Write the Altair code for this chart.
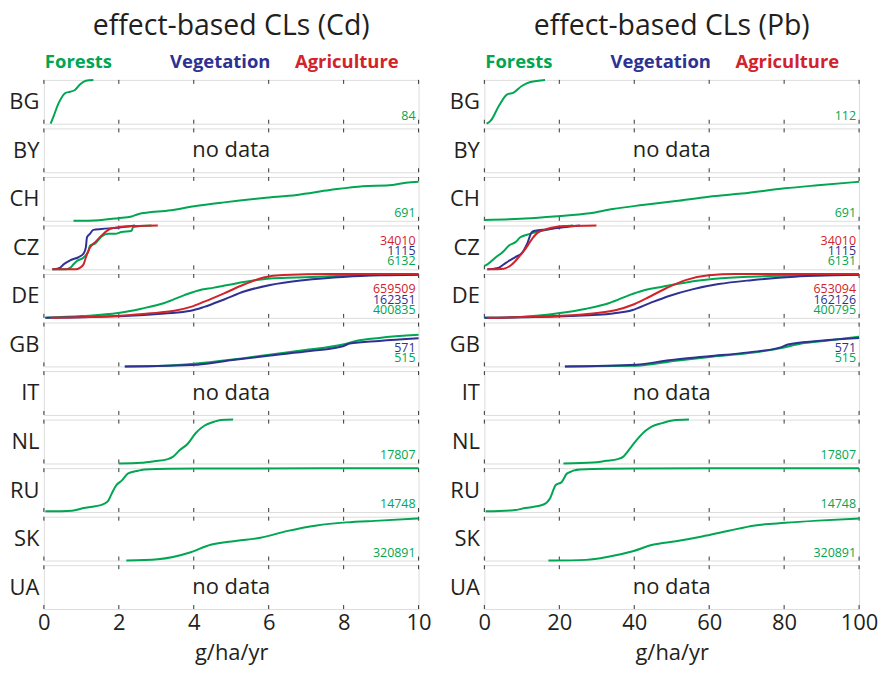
import altair as alt
import pandas as pd

FONT = "Open Sans"
INK = "#231f20"
BORDER = "#333333"

COUNTRIES = ["BG", "BY", "CH", "CZ", "DE", "GB", "IT", "NL", "RU", "SK", "UA"]
SERIES = ["Forests", "Vegetation", "Agriculture"]
SERIES_COLORS = ["#00a651", "#2e3192", "#d2232a"]
TITLES = ["effect-based CLs (Cd)", "effect-based CLs (Pb)"]
CD_TICKS = [0, 2, 4, 6, 8, 10]
PB_TICKS = [0, 20, 40, 60, 80, 100]
X_TITLE = "g/ha/yr"
NO_DATA = "no data"

# ---- number of records per country (Forests / Vegetation / Agriculture) ----
CD_N_FORESTS = [84, None, 691, 6132, 400835, 515, None, 17807, 14748, 320891, None]
CD_N_VEGETATION = [None, None, None, 1115, 162351, 571, None, None, None, None, None]
CD_N_AGRICULTURE = [None, None, None, 34010, 659509, None, None, None, None, None, None]
PB_N_FORESTS = [112, None, 691, 6131, 400795, 515, None, 17807, 14748, 320891, None]
PB_N_VEGETATION = [None, None, None, 1115, 162126, 571, None, None, None, None, None]
PB_N_AGRICULTURE = [None, None, None, 34010, 653094, None, None, None, None, None, None]

# ---- cumulative distributions, Cd (g/ha/yr vs fraction) ----
CD_BG_F_X = [0.18, 0.25, 0.40, 0.57, 0.70, 0.83, 0.97, 1.12, 1.32]
CD_BG_F_Y = [0.0, 0.15, 0.48, 0.70, 0.73, 0.77, 0.90, 0.98, 1.0]
CD_CH_F_X = [0.79, 1.46, 1.98, 2.34, 2.51, 3.39, 4.01, 4.81, 5.86, 6.75, 7.63, 8.51, 9.21, 9.66, 10.0]
CD_CH_F_Y = [0.0, 0.015, 0.06, 0.10, 0.15, 0.24, 0.33, 0.42, 0.52, 0.59, 0.70, 0.79, 0.81, 0.87, 0.89]
CD_CZ_F_X = [0.22, 0.57, 0.71, 0.79, 0.88, 1.06, 1.19, 1.23, 1.37, 1.54, 1.72, 1.90, 2.07, 2.34, 2.38, 2.51, 2.87]
CD_CZ_F_Y = [0.0, 0.0, 0.04, 0.115, 0.19, 0.27, 0.42, 0.54, 0.59, 0.75, 0.81, 0.81, 0.85, 0.88, 0.96, 0.98, 1.0]
CD_CZ_V_X = [0.26, 0.44, 0.53, 0.71, 0.93, 1.06, 1.12, 1.15, 1.23, 1.32, 1.54, 1.98, 2.43]
CD_CZ_V_Y = [0.0, 0.04, 0.115, 0.21, 0.28, 0.36, 0.50, 0.73, 0.81, 0.90, 0.92, 0.95, 1.0]
CD_CZ_A_X = [0.22, 0.84, 0.97, 1.06, 1.12, 1.23, 1.37, 1.54, 1.76, 1.98, 2.51, 3.04]
CD_CZ_A_Y = [0.0, 0.0, 0.04, 0.115, 0.27, 0.50, 0.62, 0.77, 0.92, 0.96, 0.99, 1.0]
CD_DE_F_X = [0.04, 1.01, 1.98, 2.60, 3.22, 3.75, 4.10, 4.54, 5.34, 6.04, 6.75, 7.63, 8.51, 10.0]
CD_DE_F_Y = [0.0, 0.04, 0.11, 0.21, 0.34, 0.52, 0.62, 0.69, 0.82, 0.90, 0.92, 0.95, 0.97, 0.985]
CD_DE_V_X = [0.04, 2.16, 3.22, 3.92, 4.28, 4.81, 5.34, 6.04, 6.92, 8.07, 8.95, 10.0]
CD_DE_V_Y = [0.0, 0.04, 0.10, 0.16, 0.25, 0.42, 0.60, 0.75, 0.86, 0.94, 0.97, 0.985]
CD_DE_A_X = [0.18, 1.90, 2.78, 3.48, 3.92, 4.28, 4.81, 5.34, 5.86, 6.39, 7.63, 10.0]
CD_DE_A_Y = [0.0, 0.04, 0.10, 0.16, 0.25, 0.37, 0.56, 0.76, 0.92, 0.98, 1.0, 1.0]
CD_GB_F_X = [2.16, 3.22, 4.01, 4.98, 5.86, 6.92, 7.98, 8.33, 8.95, 10.0]
CD_GB_F_Y = [0.0, 0.015, 0.06, 0.15, 0.25, 0.37, 0.50, 0.58, 0.65, 0.72]
CD_GB_V_X = [2.16, 4.10, 4.98, 6.04, 7.10, 7.98, 8.16, 8.95, 10.0]
CD_GB_V_Y = [0.0, 0.04, 0.14, 0.25, 0.35, 0.46, 0.52, 0.58, 0.64]
CD_NL_F_X = [2.0, 2.60, 2.95, 3.31, 3.44, 3.62, 3.84, 4.06, 4.28, 4.54, 4.72, 5.05]
CD_NL_F_Y = [0.0, 0.015, 0.05, 0.10, 0.15, 0.30, 0.45, 0.70, 0.86, 0.95, 0.99, 1.0]
CD_RU_F_X = [0.04, 0.75, 1.06, 1.37, 1.59, 1.72, 1.81, 1.94, 2.07, 2.25, 2.51, 2.69, 4.10, 10.0]
CD_RU_F_Y = [0.015, 0.03, 0.09, 0.13, 0.18, 0.26, 0.42, 0.62, 0.71, 0.88, 0.94, 0.97, 0.99, 1.0]
CD_SK_F_X = [2.20, 3.04, 3.92, 4.45, 5.16, 5.78, 6.48, 7.28, 8.07, 8.95, 10.0]
CD_SK_F_Y = [0.0, 0.03, 0.19, 0.36, 0.45, 0.52, 0.67, 0.80, 0.87, 0.91, 0.96]

# ---- cumulative distributions, Pb ----
PB_BG_F_X = [0.6, 1.7, 3.9, 6.1, 7.8, 10.0, 12.3, 16.2]
PB_BG_F_Y = [0.0, 0.07, 0.41, 0.67, 0.71, 0.86, 0.95, 1.0]
PB_CH_F_X = [0.0, 9.6, 18.4, 28.1, 34.3, 42.2, 51.1, 59.9, 68.7, 80.2, 89.0, 100.0]
PB_CH_F_Y = [0.02, 0.045, 0.10, 0.17, 0.27, 0.36, 0.45, 0.55, 0.62, 0.74, 0.81, 0.89]
PB_CZ_F_X = [0.0, 0.8, 3.0, 5.2, 6.5, 8.3, 9.6, 11.4, 14.0, 17.5, 21.1, 23.7]
PB_CZ_F_Y = [0.08, 0.115, 0.27, 0.42, 0.54, 0.62, 0.73, 0.79, 0.85, 0.92, 0.98, 1.0]
PB_CZ_V_X = [0.8, 3.9, 5.2, 6.5, 8.3, 10.1, 11.4, 12.7, 13.6, 16.7, 21.1, 25.5]
PB_CZ_V_Y = [0.0, 0.04, 0.115, 0.19, 0.28, 0.38, 0.58, 0.85, 0.88, 0.91, 0.96, 1.0]
PB_CZ_A_X = [0.8, 5.2, 7.4, 9.2, 10.9, 12.7, 14.0, 16.7, 21.1, 29.9]
PB_CZ_A_Y = [0.0, 0.015, 0.115, 0.28, 0.46, 0.69, 0.82, 0.92, 0.98, 1.0]
PB_DE_F_X = [0.0, 9.6, 20.2, 27.2, 33.4, 38.7, 42.2, 47.5, 54.6, 61.6, 71.3, 84.6, 100.0]
PB_DE_F_Y = [0.0, 0.02, 0.11, 0.21, 0.34, 0.52, 0.62, 0.71, 0.82, 0.89, 0.94, 0.97, 0.985]
PB_DE_V_X = [0.0, 22.8, 34.3, 39.6, 44.0, 49.3, 55.5, 62.5, 71.3, 82.8, 93.4, 100.0]
PB_DE_V_Y = [0.0, 0.04, 0.10, 0.18, 0.33, 0.50, 0.65, 0.77, 0.86, 0.94, 0.97, 0.985]
PB_DE_A_X = [0.8, 18.4, 29.0, 35.2, 39.6, 43.1, 48.4, 53.7, 59.9, 66.9, 100.0]
PB_DE_A_Y = [0.0, 0.04, 0.10, 0.18, 0.30, 0.44, 0.67, 0.86, 0.97, 1.0, 1.0]
PB_GB_F_X = [21.5, 40.5, 51.1, 60.8, 71.3, 79.3, 84.6, 90.7, 100.0]
PB_GB_F_Y = [0.0, 0.015, 0.13, 0.22, 0.31, 0.42, 0.52, 0.58, 0.68]
PB_GB_V_X = [21.5, 40.5, 49.3, 59.9, 70.5, 79.3, 81.0, 89.0, 100.0]
PB_GB_V_Y = [0.0, 0.04, 0.14, 0.23, 0.32, 0.44, 0.50, 0.58, 0.65]
PB_NL_F_X = [21.1, 29.0, 32.5, 35.6, 37.0, 39.2, 40.9, 43.1, 44.9, 47.5, 50.2, 54.6]
PB_NL_F_Y = [0.0, 0.02, 0.06, 0.10, 0.15, 0.38, 0.56, 0.75, 0.85, 0.92, 0.98, 1.0]
PB_RU_F_X = [0.35, 7.8, 10.9, 15.8, 17.5, 19.1, 20.6, 22.1, 25.5, 40.5, 100.0]
PB_RU_F_Y = [0.015, 0.04, 0.09, 0.17, 0.31, 0.62, 0.68, 0.88, 0.97, 0.99, 1.0]
PB_SK_F_X = [17.1, 27.2, 33.4, 39.6, 44.9, 51.1, 58.1, 65.2, 72.2, 80.2, 89.0, 100.0]
PB_SK_F_Y = [0.0, 0.015, 0.09, 0.21, 0.36, 0.44, 0.55, 0.68, 0.80, 0.86, 0.91, 0.96]

CURVES = {
    "Cd": {
        ("BG", "Forests"): (CD_BG_F_X, CD_BG_F_Y),
        ("CH", "Forests"): (CD_CH_F_X, CD_CH_F_Y),
        ("CZ", "Forests"): (CD_CZ_F_X, CD_CZ_F_Y),
        ("CZ", "Vegetation"): (CD_CZ_V_X, CD_CZ_V_Y),
        ("CZ", "Agriculture"): (CD_CZ_A_X, CD_CZ_A_Y),
        ("DE", "Forests"): (CD_DE_F_X, CD_DE_F_Y),
        ("DE", "Vegetation"): (CD_DE_V_X, CD_DE_V_Y),
        ("DE", "Agriculture"): (CD_DE_A_X, CD_DE_A_Y),
        ("GB", "Forests"): (CD_GB_F_X, CD_GB_F_Y),
        ("GB", "Vegetation"): (CD_GB_V_X, CD_GB_V_Y),
        ("NL", "Forests"): (CD_NL_F_X, CD_NL_F_Y),
        ("RU", "Forests"): (CD_RU_F_X, CD_RU_F_Y),
        ("SK", "Forests"): (CD_SK_F_X, CD_SK_F_Y),
    },
    "Pb": {
        ("BG", "Forests"): (PB_BG_F_X, PB_BG_F_Y),
        ("CH", "Forests"): (PB_CH_F_X, PB_CH_F_Y),
        ("CZ", "Forests"): (PB_CZ_F_X, PB_CZ_F_Y),
        ("CZ", "Vegetation"): (PB_CZ_V_X, PB_CZ_V_Y),
        ("CZ", "Agriculture"): (PB_CZ_A_X, PB_CZ_A_Y),
        ("DE", "Forests"): (PB_DE_F_X, PB_DE_F_Y),
        ("DE", "Vegetation"): (PB_DE_V_X, PB_DE_V_Y),
        ("DE", "Agriculture"): (PB_DE_A_X, PB_DE_A_Y),
        ("GB", "Forests"): (PB_GB_F_X, PB_GB_F_Y),
        ("GB", "Vegetation"): (PB_GB_V_X, PB_GB_V_Y),
        ("NL", "Forests"): (PB_NL_F_X, PB_NL_F_Y),
        ("RU", "Forests"): (PB_RU_F_X, PB_RU_F_Y),
        ("SK", "Forests"): (PB_SK_F_X, PB_SK_F_Y),
    },
}
COUNTS = {
    "Cd": [CD_N_FORESTS, CD_N_VEGETATION, CD_N_AGRICULTURE],
    "Pb": [PB_N_FORESTS, PB_N_VEGETATION, PB_N_AGRICULTURE],
}

W, H = 376, 44
LEGEND_POS = [(1, "left"), (177, "center"), (304, "center")]


def panel(metal, title, ci, country, ticks, first, last):
    xscale = alt.Scale(domain=[ticks[0], ticks[-1]], nice=False, zero=False)
    yscale = alt.Scale(domain=[0, 1], nice=False, zero=False)
    if last:
        xaxis = alt.Axis(values=ticks, title=X_TITLE, format="d", grid=False,
                         ticks=False, domain=False, labelFontSize=22,
                         labelPadding=4, labelColor=INK, titleFontSize=22,
                         titleFontWeight="normal", titleColor=INK,
                         titlePadding=9, labelFlush=False, labelOverlap=False)
    else:
        xaxis = None
    yaxis = alt.Axis(title=country, labels=False, ticks=False, domain=False,
                     grid=False, titleAngle=0, titleAlign="right",
                     titleBaseline="middle", titleX=-5, titleY=H / 2,
                     titleFontSize=22, titleFontWeight="normal", titleColor=INK)

    tick_df = pd.DataFrame({"t": ticks})
    layers = [
        alt.Chart(tick_df).mark_rule(color=BORDER, strokeWidth=1).encode(
            x=alt.X("t:Q", scale=xscale, axis=xaxis),
            y=alt.Y(datum=1, type="quantitative", scale=yscale, axis=yaxis),
            y2=alt.value(4)),
        alt.Chart(tick_df).mark_rule(color=BORDER, strokeWidth=1).encode(
            x=alt.X("t:Q", scale=xscale, axis=xaxis),
            y=alt.Y(datum=0, type="quantitative", scale=yscale, axis=yaxis),
            y2=alt.value(H - 4)),
    ]
    has_data = False
    for s, col in zip(SERIES, SERIES_COLORS):
        key = (country, s)
        if key in CURVES[metal]:
            xs, ys = CURVES[metal][key]
            df = pd.DataFrame({"x": xs, "y": ys, "i": list(range(len(xs)))})
            layers.append(
                alt.Chart(df).mark_line(color=col, strokeWidth=2,
                                        interpolate="monotone").encode(
                    x=alt.X("x:Q", scale=xscale, axis=xaxis),
                    y=alt.Y("y:Q", scale=yscale, axis=yaxis),
                    order="i:Q"))
            has_data = True
    k = 0
    for si, (s, col) in enumerate(zip(SERIES, SERIES_COLORS)):
        n = COUNTS[metal][si][ci]
        if n is not None:
            layers.append(
                alt.Chart(pd.DataFrame({"n": [str(n)]})).mark_text(
                    align="right", baseline="alphabetic", fontSize=12.5,
                    color=col).encode(
                    x=alt.value(W - 3), y=alt.value(H - 4 - k * 10.3),
                    text="n:N"))
            k += 1
    if not has_data:
        layers.append(
            alt.Chart(pd.DataFrame({"label": [NO_DATA]})).mark_text(
                align="center", baseline="middle", fontSize=22, color=INK).encode(
                x=alt.value(W / 2), y=alt.value(H / 2), text="label:N"))
    if first:
        layers.append(
            alt.Chart(pd.DataFrame({"t": [title]})).mark_text(
                align="center", baseline="alphabetic", fontSize=28.5,
                color=INK).encode(
                x=alt.value(W / 2), y=alt.value(-45), text="t:N"))
        for s, col, (px, al) in zip(SERIES, SERIES_COLORS, LEGEND_POS):
            layers.append(
                alt.Chart(pd.DataFrame({"s": [s]})).mark_text(
                    align=al, baseline="alphabetic", fontSize=18.5,
                    fontWeight="bold", color=col).encode(
                    x=alt.value(px), y=alt.value(-11.5), text="s:N"))
    return alt.layer(*layers).properties(width=W, height=H)


columns = []
for metal, title, ticks in zip(["Cd", "Pb"], TITLES, [CD_TICKS, PB_TICKS]):
    panels = [panel(metal, title, ci, c, ticks, ci == 0, ci == len(COUNTRIES) - 1)
              for ci, c in enumerate(COUNTRIES)]
    columns.append(alt.vconcat(*panels, spacing=4.7, bounds="flush"))

chart = alt.hconcat(*columns, spacing=16).properties(
    padding={"left": 0, "top": 2, "right": 0, "bottom": 0}
).configure_view(stroke=BORDER, strokeWidth=1.2).configure(font=FONT)

chart.save("out.html", embed_options={"renderer": "svg", "actions": False})
